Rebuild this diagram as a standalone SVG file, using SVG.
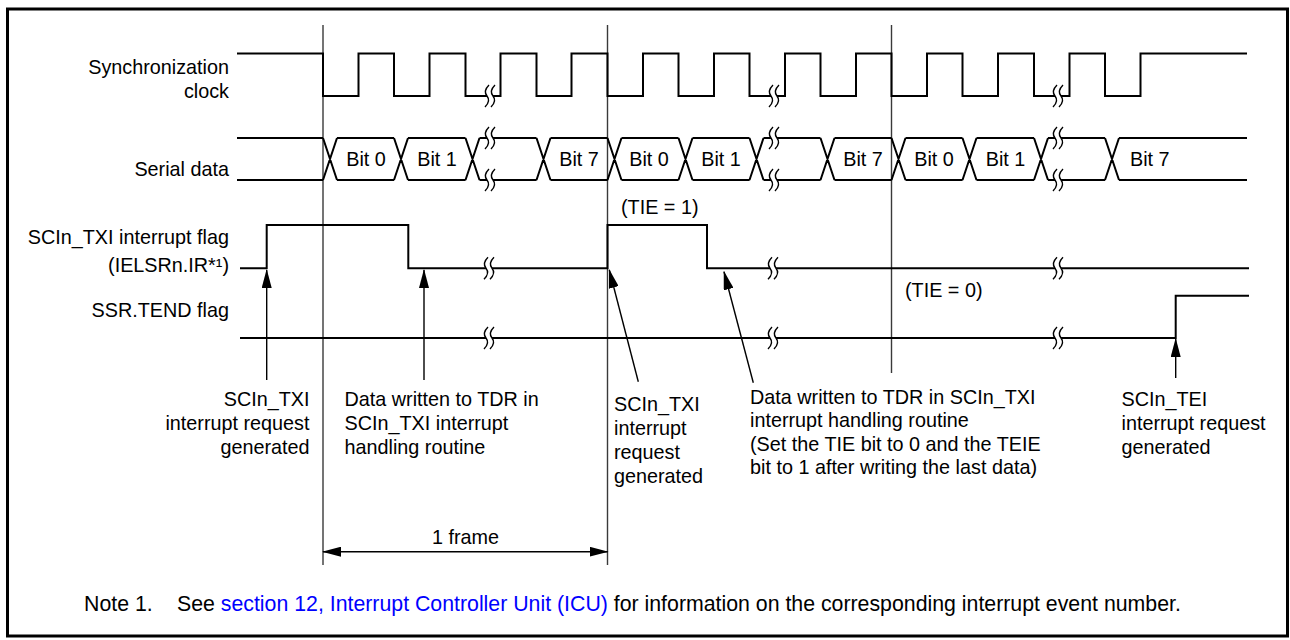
<svg xmlns="http://www.w3.org/2000/svg" xmlns:xlink="http://www.w3.org/1999/xlink" width="1290" height="640" viewBox="0 0 1290 640">
<style>
text{font-family:"Liberation Sans",Arial,sans-serif;font-size:19.8px;fill:#000}
.r{text-anchor:end}
.m{text-anchor:middle}
.w{fill:none;stroke:#000;stroke-width:2;stroke-linejoin:miter}
.v{fill:none;stroke:#3a3a3a;stroke-width:1.4}
.a{fill:none;stroke:#000;stroke-width:1.4}
.lnk{fill:#0000ff}
.nt{font-size:21.3px}
</style>
<defs>
<marker id="ah" markerUnits="userSpaceOnUse" markerWidth="19" markerHeight="10" viewBox="0 0 19 10" refX="18" refY="5" orient="auto-start-reverse">
<path d="M0,0 L19,5 L0,10 Z" fill="#000"/>
</marker>
<g id="brk">
<path d="M-1,-11 Q-7,-5 -3,0 Q1,5 -5,11 L1,11 Q7,5 3,0 Q-1,-5 5,-11 Z" fill="#fff" stroke="none"/>
<path d="M-1,-11 Q-7,-5 -3,0 Q1,5 -5,11 M5,-11 Q-1,-5 3,0 Q7,5 1,11" fill="none" stroke="#000" stroke-width="1.4"/>
</g>
</defs>
<rect x="0" y="0" width="1290" height="640" fill="#fff"/>
<rect x="7.5" y="9" width="1280" height="627" fill="none" stroke="#000" stroke-width="3"/>

<g id="guides">
<path class="v" d="M323,25 V565 M607.5,25 V565 M891.5,25 V373"/>
</g>

<g id="clock">
<text class="r" x="229" y="74">Synchronization</text>
<text class="r" x="229" y="97.5">clock</text>
<path class="w" d="M237,53.5 H323 V96 H358.5 V53.5 H394 V96 H429.5 V53.5 H465.5 V96 H500.5 V53.5 H536.5 V96 H571.5 V53.5 H607.5 V96 H643 V53.5 H678.5 V96 H714 V53.5 H749.5 V96 H785 V53.5 H820.5 V96 H856 V53.5 H891.5 V96 H927 V53.5 H962.5 V96 H998 V53.5 H1034 V96 H1069.5 V53.5 H1105 V96 H1140.5 V53.5 H1247"/>
<use xlink:href="#brk" x="490" y="96"/>
<use xlink:href="#brk" x="774" y="96"/>
<use xlink:href="#brk" x="1058" y="96"/>
</g>

<g id="serial-data">
<text class="r" x="229" y="176">Serial data</text>
<path class="w" d="M237,138H323 M337,138H394 M408,138H465.5 M479.5,138H536.5 M550.5,138H607.5 M621.5,138H678.5 M692.5,138H749.5 M763.5,138H820.5 M834.5,138H891.5 M905.5,138H962.5 M976.5,138H1034 M1048,138H1105 M1119,138H1247
M237,180H323 M337,180H394 M408,180H465.5 M479.5,180H536.5 M550.5,180H607.5 M621.5,180H678.5 M692.5,180H749.5 M763.5,180H820.5 M834.5,180H891.5 M905.5,180H962.5 M976.5,180H1034 M1048,180H1105 M1119,180H1247
M323,138L337,180 M323,180L337,138 M394,138L408,180 M394,180L408,138 M465.5,138L479.5,180 M465.5,180L479.5,138 M536.5,138L550.5,180 M536.5,180L550.5,138 M607.5,138L621.5,180 M607.5,180L621.5,138 M678.5,138L692.5,180 M678.5,180L692.5,138 M749.5,138L763.5,180 M749.5,180L763.5,138 M820.5,138L834.5,180 M820.5,180L834.5,138 M891.5,138L905.5,180 M891.5,180L905.5,138 M962.5,138L976.5,180 M962.5,180L976.5,138 M1034,138L1048,180 M1034,180L1048,138 M1105,138L1119,180 M1105,180L1119,138"/>
<use xlink:href="#brk" x="490" y="138"/>
<use xlink:href="#brk" x="490" y="180"/>
<use xlink:href="#brk" x="774" y="138"/>
<use xlink:href="#brk" x="774" y="180"/>
<use xlink:href="#brk" x="1058" y="138"/>
<use xlink:href="#brk" x="1058" y="180"/>
<text class="m" x="366" y="166">Bit 0</text>
<text class="m" x="437" y="166">Bit 1</text>
<text class="m" x="579" y="166">Bit 7</text>
<text class="m" x="649" y="166">Bit 0</text>
<text class="m" x="721" y="166">Bit 1</text>
<text class="m" x="863" y="166">Bit 7</text>
<text class="m" x="934" y="166">Bit 0</text>
<text class="m" x="1005.5" y="166">Bit 1</text>
<text x="1130" y="166">Bit 7</text>
</g>

<g id="txi-flag">
<text class="r" x="229" y="244">SCIn_TXI interrupt flag</text>
<text class="r" x="229" y="272">(IELSRn.IR*¹)</text>
<path class="w" d="M240,268.3 H266.7 V225 H408.3 V268.3 H607.5 V225 H707 V268.3 H1249"/>
<use xlink:href="#brk" x="489" y="268.3"/>
<use xlink:href="#brk" x="773" y="268.3"/>
<use xlink:href="#brk" x="1058" y="268.3"/>
<text x="621" y="214">(TIE = 1)</text>
<text x="905" y="297">(TIE = 0)</text>
</g>

<g id="tend-flag">
<text class="r" x="229" y="317">SSR.TEND flag</text>
<path class="w" d="M240,338 H1175.7 V295.7 H1249"/>
<use xlink:href="#brk" x="489" y="338"/>
<use xlink:href="#brk" x="773" y="338"/>
<use xlink:href="#brk" x="1058" y="338"/>
</g>

<g id="connectors">
<path class="a" d="M266.7,380 V270" marker-end="url(#ah)"/>
<path class="a" d="M424,380 V270" marker-end="url(#ah)"/>
<path class="a" d="M638.3,381.7 L609.3,270" marker-end="url(#ah)"/>
<path class="a" d="M753.3,382.7 L724,271.7" marker-end="url(#ah)"/>
<path class="a" d="M1175.7,378 V339" marker-end="url(#ah)"/>
<path class="a" d="M323,551.7 H607.5" marker-start="url(#ah)" marker-end="url(#ah)"/>
</g>

<g id="label-txi-req1">
<text class="r" x="309.5" y="405.7">SCIn_TXI</text>
<text class="r" x="309.5" y="430">interrupt request</text>
<text class="r" x="309.5" y="454">generated</text>
</g>
<g id="label-tdr1">
<text x="344.5" y="405.7">Data written to TDR in</text>
<text x="344.5" y="430">SCIn_TXI interrupt</text>
<text x="344.5" y="454">handling routine</text>
</g>
<g id="label-txi-req2">
<text x="614" y="411">SCIn_TXI</text>
<text x="614" y="435">interrupt</text>
<text x="614" y="459">request</text>
<text x="614" y="483">generated</text>
</g>
<g id="label-tdr2">
<text x="750" y="403.5">Data written to TDR in SCIn_TXI</text>
<text x="750" y="427">interrupt handling routine</text>
<text x="750" y="450.5">(Set the TIE bit to 0 and the TEIE</text>
<text x="750" y="474">bit to 1 after writing the last data)</text>
</g>
<g id="label-tei">
<text x="1121.5" y="406">SCIn_TEI</text>
<text x="1121.5" y="430">interrupt request</text>
<text x="1121.5" y="454">generated</text>
</g>
<g id="label-frame">
<text class="m" x="465.5" y="544">1 frame</text>
</g>
<g id="note">
<text class="nt" x="84" y="611">Note 1.</text>
<text class="nt" x="177" y="611">See <tspan class="lnk">section 12, Interrupt Controller Unit (ICU)</tspan> for information on the corresponding interrupt event number.</text>
</g>
</svg>
